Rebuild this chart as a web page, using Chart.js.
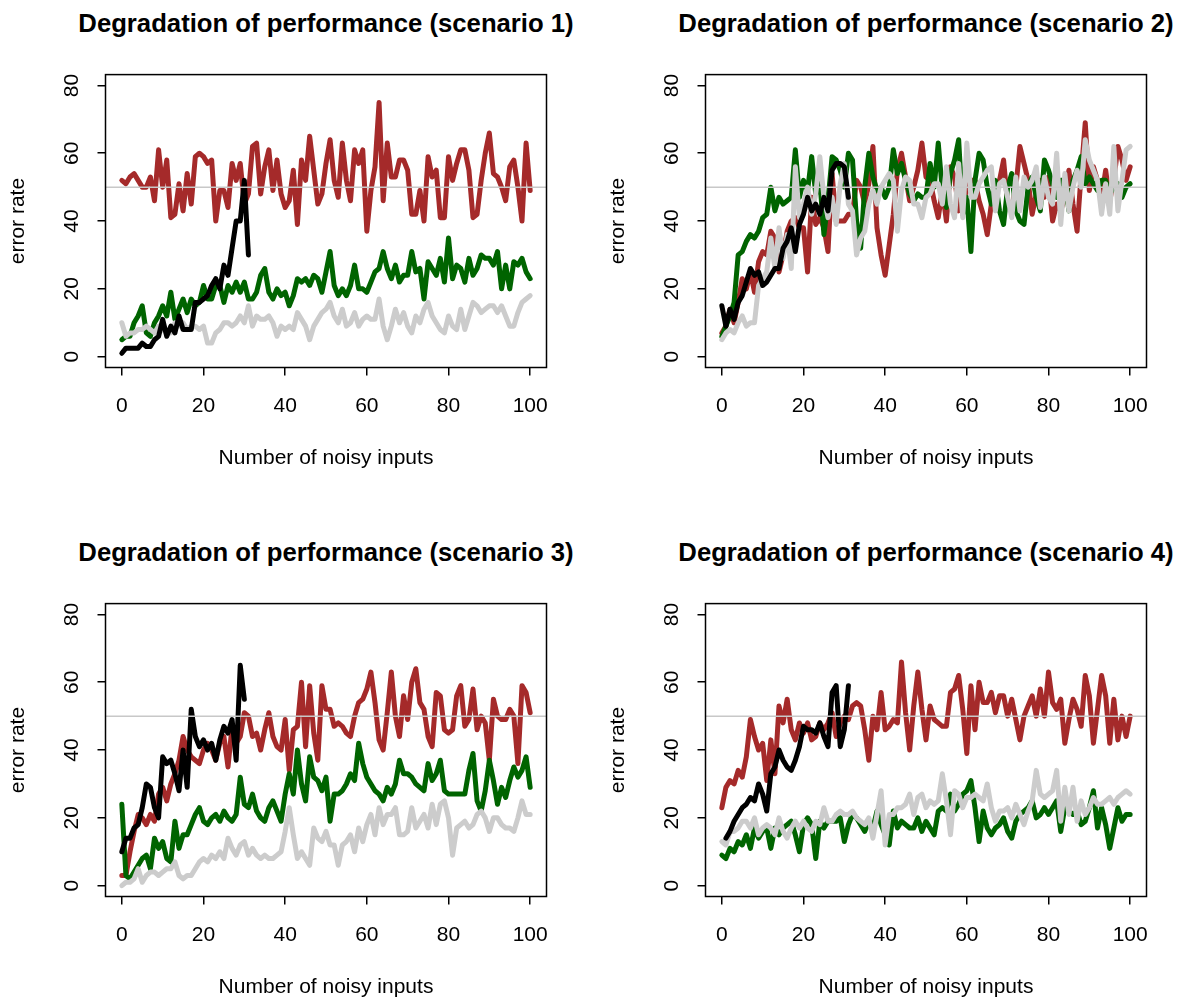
<!DOCTYPE html>
<html>
<head>
<meta charset="utf-8">
<script src="https://cdn.jsdelivr.net/npm/chart.js@4.4.1/dist/chart.umd.min.js"></script>
<style>
  body { margin: 0; background: #fff; }
  #wrap { position: relative; width: 1200px; height: 1005px; }
  canvas { position: absolute; }
  .ttl { position: absolute; width: 600px; text-align: center; color: #000; white-space: nowrap;
         font: bold 25.7px "Liberation Sans", Arial, sans-serif; line-height: 30px; }
</style>
</head>
<body>
<div id="wrap">
  <div class="ttl" style="left:26px;top:7.6px">Degradation of performance (scenario 1)</div>
  <div class="ttl" style="left:626px;top:7.6px">Degradation of performance (scenario 2)</div>
  <div class="ttl" style="left:26px;top:536.6px">Degradation of performance (scenario 3)</div>
  <div class="ttl" style="left:626px;top:536.6px">Degradation of performance (scenario 4)</div>
  <canvas id="c1" width="600" height="476" style="left:0;top:0"></canvas>
  <canvas id="c2" width="600" height="476" style="left:600px;top:0"></canvas>
  <canvas id="c3" width="600" height="476" style="left:0;top:529px"></canvas>
  <canvas id="c4" width="600" height="476" style="left:600px;top:529px"></canvas>
</div>
<script>
// x = number of noisy inputs (0..100)
const noisyInputs = Array.from({ length: 101 }, (_, i) => i);
const xTicks = [0, 20, 40, 60, 80, 100];
const yTicks = [0, 20, 40, 60, 80];
const chanceLevel = 50;

// scenario 1
const sc1Brown = [52,51,53,54,52,50,50,53,46,61, 50,58,41,42,51,43,54,45,59,60,
  59,57,58,40,49,49,44,57,52,57, 45,48,62,63,48,56,61,49,58,48, 44,46,55,39,58,52,65,55,45,48,
  57,64,52,47,63,52,46,61,57,61, 37,49,56,75,46,63,53,53,58,58, 55,42,42,49,40,59,53,55,41,41,
  59,52,57,61,61,55,41,42,52,60, 66,54,53,50,46,56,58,50,40,63, 49];
const sc1Green = [5,6,6,10,12,15,7,6,10,12, 15,12,19,11,14,17,13,17,15,16,
  21,17,17,21,21,16,21,19,22,19, 22,17,17,19,24,26,19,17,20,18, 19,15,18,23,22,23,21,24,23,19,
  25,31,21,18,20,18,21,27,20,20, 19,22,25,26,31,26,23,27,22,24, 24,31,25,26,17,28,26,24,29,22,
  35,23,27,26,22,29,24,26,30,29, 29,27,31,20,27,20,28,27,29,25, 23];
const sc1Grey = [10,6,7,7,8,8,9,8,7,9, 8,7,7,10,9,10,8,9,9,8,
  9,4,4,7,8,10,10,9,10,12, 10,15,9,12,11,11,12,10,6,9, 8,9,8,13,11,9,5,9,11,13,
  14,16,12,10,14,9,10,13,9,11, 12,11,11,17,9,5,9,14,10,13, 9,7,12,10,14,16,12,10,8,7,
  12,9,8,14,8,12,16,15,13,14, 15,15,13,15,12,9,9,13,16,17, 18];
const sc1Black = [1,2.5,2.5,2.5,2.5,4,3,3,5,6, 11,6,9,7,12,8,8,8,16,16,
  17,18,21,23,20,27,24,32,40,40, 52,30];

// scenario 2
const sc2Brown = [7,9,14,10,16,23,20,25,19,28, 31,30,37,35,25,30,37,40,41,38,
  38,25,47,39,41,38,31,54,40,40, 40,42,42,52,50,45,51,62,38,30, 24,33,42,55,60,53,46,50,55,63,
  53,52,46,41,49,40,56,53,43,46, 49,52,52,46,42,36,45,48,52,58, 45,44,50,62,57,52,42,48,52,47,
  53,40,45,43,47,55,45,37,54,69, 49,56,52,47,55,46,52,62,58,52, 56];
const sc2Green = [6,9,12,16,30,31,34,36,35,37, 41,42,50,43,47,45,46,47,61,47,
  52,49,59,48,52,36,46,59,58,55, 50,60,58,40,32,50,60,53,49,50, 47,50,61,54,57,52,48,46,48,47,
  47,57,50,63,49,44,54,58,64,42, 47,31,52,60,58,50,45,52,43,39, 50,54,43,40,39,50,53,47,43,58,
  55,51,47,52,52,43,52,55,59,51, 53,51,49,52,52,48,50,51,47,50, 51];
const sc2Grey = [5,7,8,7,10,12,9,10,10,21, 23,25,35,26,38,29,36,26,56,41,
  45,50,42,48,59,47,41,47,39,51, 57,45,43,30,35,37,45,49,45,50, 52,54,52,37,49,53,52,45,45,41,
  47,48,51,51,45,56,45,41,57,41, 63,47,47,51,53,55,56,43,51,52, 47,41,53,43,53,50,52,56,44,53,
  47,45,60,39,54,43,50,55,50,64, 58,55,52,42,51,42,62,43,52,61, 62];
const sc2Black = [15,9,14,11,16,18,22,26,24,25, 21,22,24,26,26,32,34,38,31,39,
  42,47,43,45,42,47,43,55,57,57, 56,47];

// scenario 3
const sc3Brown = [3,3,10,16,21,20,18,21,19,27, 29,25,30,33,37,44,40,38,37,36,
  40,42,40,37,42,44,35,47,42,44, 51,50,44,45,40,46,51,44,41,40, 49,34,46,47,60,41,59,45,37,59,
  52,52,47,48,47,45,44,50,54,55, 58,63,54,43,40,51,63,50,44,56, 49,60,64,54,52,44,41,57,56,46,
  45,46,56,59,47,49,58,46,50,48, 37,55,50,49,49,52,50,36,59,57, 51];
const sc3Green = [24,3,2,4,6,8,9,5,14,11, 13,8,7,19,11,15,15,18,21,23,
  19,18,20,21,19,22,20,19,21,32, 24,23,27,22,20,19,23,25,22,19, 27,33,27,40,30,25,38,32,31,28,
  32,19,27,27,28,30,33,31,42,36, 32,30,28,27,25,29,27,30,37,33, 33,32,30,29,28,36,31,33,37,28,
  27,27,27,27,27,34,39,25,22,28, 37,31,24,29,26,31,35,32,34,38, 29];
const sc3Grey = [0,1,1,2,5,1,3,4,4,3, 4,5,5,7,3,2,3,3,5,7,
  8,7,9,8,10,8,14,11,9,12, 13,9,11,9,8,9,8,8,9,10, 16,23,15,8,10,8,6,17,14,13,
  16,12,12,6,12,13,15,10,17,13, 18,21,15,23,18,21,21,23,15,15, 16,23,17,19,21,17,24,18,24,25,
  20,9,17,18,19,17,18,21,22,20, 16,20,20,18,17,17,16,20,25,21, 21];
const sc3Black = [10,14,14,17,18,23,30,29,23,20, 38,36,37,33,28,40,29,52,44,41,
  43,40,42,37,43,47,45,49,37,65, 55];

// scenario 4
const sc4Brown = [23,29,31,30,34,32,38,49,44,40, 42,31,43,33,53,48,55,46,43,48,
  45,48,43,44,48,46,48,51,44,48, 50,49,53,54,53,46,37,50,46,57, 46,47,49,48,66,51,40,53,63,52,
  43,53,49,48,47,47,57,58,62,52, 39,59,46,60,54,54,57,51,56,56, 50,55,49,43,50,53,56,50,58,50,
  63,54,52,55,42,49,55,52,47,62, 56,42,52,62,56,42,55,43,50,44, 50];
const sc4Green = [9,8,11,10,13,12,15,11,17,14, 16,17,11,17,15,17,18,19,15,10,
  18,20,18,8,19,17,19,19,19,20, 13,18,21,20,18,16,19,17,22,18, 15,12,22,17,19,18,17,17,20,16,
  19,17,15,22,23,22,27,22,24,27, 28,31,23,13,22,17,15,17,18,20, 16,14,19,21,22,23,25,20,21,23,
  21,23,25,16,23,22,21,22,18,19, 23,28,17,23,18,11,17,23,19,21, 21];
const sc4Grey = [13,12,16,16,17,19,19,17,20,15, 17,18,17,15,20,16,14,17,19,17,
  19,17,16,19,18,23,19,19,21,22, 21,21,22,20,19,18,20,14,21,28, 12,21,21,23,23,24,27,21,26,27,
  23,25,24,25,33,25,15,28,27,23, 26,26,27,26,25,30,23,19,22,22, 23,20,24,21,18,22,25,34,27,26,
  27,28,34,19,29,21,29,19,25,21, 23,26,24,24,25,26,24,26,27,28, 27];
const sc4Black = [null,14,16,19,21,23,24,26,25,30, 27,22,33,35,40,37,35,34,37,41,
  47,46,46,45,48,44,41,57,59,41, 46,59];

const brown = '#A52A2A';
const darkGreen = '#006400';
const lightGrey = '#CCCCCC';
const labelFont = { family: "'Liberation Sans', Arial, sans-serif", size: 21 };

// R-style box around the plot region
const boxPlugin = {
  id: 'box',
  afterDraw(chart) {
    const { ctx, chartArea: a } = chart;
    ctx.save();
    ctx.strokeStyle = '#000';
    ctx.lineWidth = 1.5;
    ctx.strokeRect(a.left, a.top, a.right - a.left, a.bottom - a.top);
    ctx.restore();
  }
};

function series(values, color, order) {
  return {
    data: values.map((v, i) => ({ x: noisyInputs[i], y: v })),
    borderColor: color,
    borderWidth: 5,
    pointRadius: 0,
    borderCapStyle: 'round',
    borderJoinStyle: 'round',
    order: order
  };
}

function axisTicks(list) {
  return scale => { scale.ticks = list.map(v => ({ value: v })); };
}

function makePanel(id, brownVals, greenVals, greyVals, blackVals) {
  new Chart(document.getElementById(id), {
    type: 'line',
    data: {
      datasets: [
        { data: [{ x: -4, y: chanceLevel }, { x: 104, y: chanceLevel }],
          borderColor: '#C8C8C8', borderWidth: 1.5, pointRadius: 0, order: 0 },
        series(blackVals, '#000000', 1),
        series(greyVals, lightGrey, 2),
        series(greenVals, darkGreen, 3),
        series(brownVals, brown, 4)
      ]
    },
    options: {
      responsive: false,
      animation: false,
      devicePixelRatio: 1,
      layout: { padding: { top: 74.6, left: 0, right: 53.5, bottom: 0 } },
      plugins: { legend: { display: false }, tooltip: { enabled: false } },
      scales: {
        x: {
          type: 'linear', min: -4, max: 104,
          afterBuildTicks: axisTicks(xTicks),
          afterFit: s => { s.height = 108.5; },
          grid: { drawOnChartArea: false, drawTicks: true, tickLength: 8, color: '#000', lineWidth: 1.5 },
          border: { display: false },
          ticks: { font: labelFont, color: '#000', padding: 18, maxRotation: 0, autoSkip: false },
          title: { display: true, text: 'Number of noisy inputs', font: labelFont, color: '#000',
                   padding: { top: 0, bottom: 5.4 } }
        },
        y: {
          type: 'linear', min: -3.2, max: 83.2,
          afterBuildTicks: axisTicks(yTicks),
          afterFit: s => { s.width = 105.5; },
          grid: { drawOnChartArea: false, drawTicks: true, tickLength: 8, color: '#000', lineWidth: 1.5 },
          border: { display: false },
          ticks: { font: labelFont, color: '#000', padding: 13.8, minRotation: 90, maxRotation: 90,
                   crossAlign: 'center', autoSkip: false },
          title: { display: true, text: 'error rate', font: labelFont, color: '#000',
                   padding: { top: 5.4, bottom: 0 } }
        }
      }
    },
    plugins: [boxPlugin]
  });
}

makePanel('c1', sc1Brown, sc1Green, sc1Grey, sc1Black);
makePanel('c2', sc2Brown, sc2Green, sc2Grey, sc2Black);
makePanel('c3', sc3Brown, sc3Green, sc3Grey, sc3Black);
makePanel('c4', sc4Brown, sc4Green, sc4Grey, sc4Black);
</script>
</body>
</html>
